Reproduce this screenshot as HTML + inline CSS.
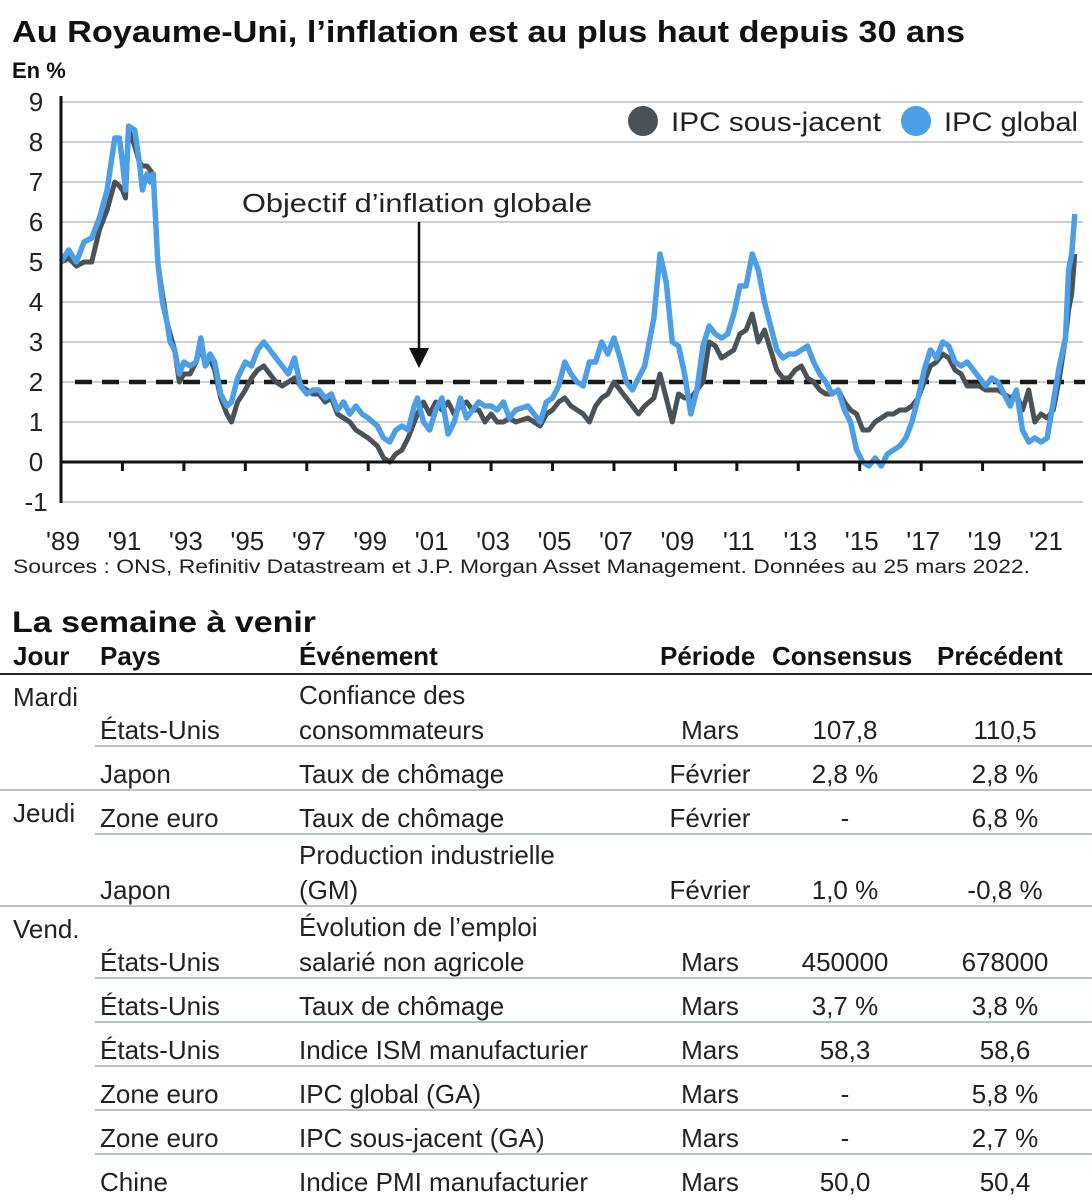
<!DOCTYPE html>
<html><head><meta charset="utf-8"><style>
body{margin:0;background:#fff;}
svg{display:block;font-family:"Liberation Sans",sans-serif;}
</style></head><body>
<svg id="root" width="1092" height="1200" viewBox="0 0 1092 1200">
<text x="12" y="42" font-size="31" font-weight="bold" fill="#111" textLength="953" lengthAdjust="spacingAndGlyphs">Au Royaume-Uni, l’inflation est au plus haut depuis 30 ans</text>
<text x="12" y="78" font-size="22" font-weight="bold" fill="#111">En %</text>
<g id="grid"></g>
<g id="ylabels"></g>
<g id="xlabels"></g>
<line x1="75" y1="382" x2="1085" y2="382" stroke="#1a1a1a" stroke-width="4.5" stroke-dasharray="17,10"/>
<g id="series"></g>
<line x1="61" y1="96" x2="61" y2="503" stroke="#111" stroke-width="3"/>
<g id="axis"></g>
<text x="242" y="212" font-size="26" fill="#222" textLength="350" lengthAdjust="spacingAndGlyphs">Objectif d’inflation globale</text>
<line x1="419" y1="222" x2="419" y2="352" stroke="#111" stroke-width="2.5"/>
<polygon points="409,348 429,348 419,368" fill="#111"/>
<g>
<circle cx="643" cy="121" r="15" fill="#4a5257"/>
<text x="671" y="131" font-size="27" fill="#222" textLength="210" lengthAdjust="spacingAndGlyphs">IPC sous-jacent</text>
<circle cx="916" cy="121" r="15" fill="#4c9fe6"/>
<text x="944" y="131" font-size="27" fill="#222" textLength="134" lengthAdjust="spacingAndGlyphs">IPC global</text>
</g>
<text x="13" y="573" font-size="19" fill="#222" textLength="1017" lengthAdjust="spacingAndGlyphs">Sources : ONS, Refinitiv Datastream et J.P. Morgan Asset Management.  Données au 25 mars 2022.</text>

<text x="12" y="632" font-size="30" font-weight="bold" fill="#111" textLength="304" lengthAdjust="spacingAndGlyphs">La semaine à venir</text>
<g id="table"></g>
</svg>
<script>
const years=[1989.0,1989.25,1989.5,1989.75,1990.0,1990.25,1990.5,1990.75,1990.9,1991.0,1991.1,1991.2,1991.4,1991.55,1991.65,1991.8,1991.9,1992.0,1992.15,1992.3,1992.45,1992.55,1992.7,1992.85,1993.0,1993.2,1993.4,1993.55,1993.7,1993.85,1994.0,1994.2,1994.4,1994.55,1994.75,1995.0,1995.2,1995.4,1995.6,1995.8,1996.0,1996.2,1996.4,1996.6,1996.8,1997.0,1997.2,1997.4,1997.6,1997.8,1998.0,1998.2,1998.4,1998.6,1998.8,1999.0,1999.3,1999.5,1999.7,1999.9,2000.1,2000.3,2000.5,2000.6,2000.8,2001.0,2001.2,2001.4,2001.6,2001.8,2002.0,2002.2,2002.4,2002.6,2002.8,2003.0,2003.2,2003.4,2003.6,2003.8,2004.2,2004.6,2004.8,2005.0,2005.2,2005.4,2005.6,2005.8,2006.0,2006.2,2006.4,2006.6,2006.8,2007.0,2007.2,2007.4,2007.6,2007.8,2008.0,2008.3,2008.5,2008.7,2008.9,2009.1,2009.3,2009.5,2009.7,2009.9,2010.1,2010.3,2010.5,2010.7,2010.9,2011.1,2011.3,2011.5,2011.7,2011.9,2012.1,2012.3,2012.5,2012.7,2012.9,2013.1,2013.3,2013.5,2013.7,2013.9,2014.1,2014.3,2014.5,2014.7,2014.9,2015.1,2015.3,2015.5,2015.7,2015.9,2016.1,2016.3,2016.5,2016.7,2016.9,2017.1,2017.3,2017.5,2017.7,2017.9,2018.1,2018.3,2018.5,2018.7,2018.9,2019.1,2019.3,2019.5,2019.7,2019.9,2020.1,2020.3,2020.5,2020.7,2020.9,2021.1,2021.3,2021.5,2021.7,2021.8,2021.9,2022.0];
const globalCpi=[5.0,5.3,5.0,5.5,5.6,6.1,6.8,8.1,8.1,7.5,6.8,8.4,8.3,7.5,6.8,7.2,7.0,7.2,5.0,4.0,3.5,3.0,2.8,2.2,2.5,2.4,2.5,3.1,2.4,2.7,2.5,1.7,1.4,1.5,2.1,2.5,2.4,2.8,3.0,2.8,2.6,2.4,2.2,2.6,1.9,1.7,1.8,1.8,1.6,1.7,1.3,1.5,1.2,1.4,1.2,1.1,0.9,0.6,0.5,0.8,0.9,0.8,1.4,1.6,1.0,0.8,1.3,1.6,0.7,1.0,1.6,1.1,1.3,1.5,1.4,1.4,1.3,1.5,1.1,1.3,1.4,1.0,1.5,1.6,1.9,2.5,2.2,2.0,1.9,2.5,2.5,3.0,2.7,3.1,2.6,2.0,1.8,2.1,2.4,3.6,5.2,4.5,3.0,2.9,2.2,1.2,1.8,2.9,3.4,3.2,3.1,3.2,3.7,4.4,4.4,5.2,4.8,4.0,3.4,2.8,2.6,2.7,2.7,2.8,2.9,2.5,2.2,2.0,1.7,1.8,1.3,1.0,0.3,0.0,-0.1,0.1,-0.1,0.2,0.3,0.4,0.6,1.0,1.6,2.3,2.8,2.6,3.0,2.9,2.5,2.4,2.5,2.3,2.1,1.9,2.1,2.0,1.7,1.4,1.8,0.8,0.5,0.6,0.5,0.6,1.5,2.4,3.1,4.8,5.2,6.2];
const coreCpi=[5.0,5.1,4.9,5.0,5.0,5.8,6.3,7.0,6.9,6.8,6.6,8.3,7.9,7.5,7.4,7.4,7.3,7.2,5.0,4.2,3.5,3.2,2.8,2.0,2.2,2.2,2.5,2.9,2.4,2.6,2.3,1.6,1.2,1.0,1.5,1.8,2.1,2.3,2.4,2.2,2.0,1.9,2.0,2.1,1.9,1.8,1.7,1.7,1.5,1.6,1.2,1.1,1.0,0.8,0.7,0.6,0.4,0.1,0.0,0.2,0.3,0.6,1.0,1.2,1.5,1.2,1.5,1.3,1.5,1.2,1.4,1.5,1.3,1.3,1.0,1.2,1.0,1.0,1.1,1.0,1.1,0.9,1.2,1.3,1.5,1.6,1.4,1.3,1.2,1.0,1.4,1.6,1.7,2.0,1.8,1.6,1.4,1.2,1.4,1.6,2.2,1.6,1.0,1.7,1.6,1.6,1.8,2.0,3.0,2.9,2.6,2.7,2.8,3.2,3.3,3.7,3.0,3.3,2.8,2.3,2.1,2.1,2.3,2.4,2.1,2.0,1.8,1.7,1.7,1.8,1.5,1.3,1.2,0.8,0.8,1.0,1.1,1.2,1.2,1.3,1.3,1.4,1.6,2.0,2.4,2.5,2.7,2.6,2.3,2.2,1.9,1.9,1.9,1.8,1.8,1.8,1.7,1.6,1.7,1.3,1.8,1.0,1.2,1.1,1.3,2.1,3.1,3.8,4.2,5.2];
const yTicks=[9,8,7,6,5,4,3,2,1,0,-1];
const xTickYears=[1989,1991,1993,1995,1997,1999,2001,2003,2005,2007,2009,2011,2013,2015,2017,2019,2021];
const xTickLabels=["'89","'91","'93","'95","'97","'99","'01","'03","'05","'07","'09","'11","'13","'15","'17","'19","'21"];
const tableHeaders=["Jour","Pays","Événement","Période","Consensus","Précédent"];
const tableRows=[
 {day:"Mardi",country:"États-Unis",event:["Confiance des","consommateurs"],period:"Mars",cons:"107,8",prev:"110,5"},
 {day:"",country:"Japon",event:["Taux de chômage"],period:"Février",cons:"2,8 %",prev:"2,8 %"},
 {day:"Jeudi",country:"Zone euro",event:["Taux de chômage"],period:"Février",cons:"-",prev:"6,8 %"},
 {day:"",country:"Japon",event:["Production industrielle","(GM)"],period:"Février",cons:"1,0 %",prev:"-0,8 %"},
 {day:"Vend.",country:"États-Unis",event:["Évolution de l’emploi","salarié non agricole"],period:"Mars",cons:"450000",prev:"678000"},
 {day:"",country:"États-Unis",event:["Taux de chômage"],period:"Mars",cons:"3,7 %",prev:"3,8 %"},
 {day:"",country:"États-Unis",event:["Indice ISM manufacturier"],period:"Mars",cons:"58,3",prev:"58,6"},
 {day:"",country:"Zone euro",event:["IPC global (GA)"],period:"Mars",cons:"-",prev:"5,8 %"},
 {day:"",country:"Zone euro",event:["IPC sous-jacent (GA)"],period:"Mars",cons:"-",prev:"2,7 %"},
 {day:"",country:"Chine",event:["Indice PMI manufacturier"],period:"Mars",cons:"50,0",prev:"50,4"}
];
const NS="http://www.w3.org/2000/svg";
const xs=y=>61+(y-1989)*30.72;
const ys=v=>462-v*40;
function mk(tag,attrs,parent,text){const e=document.createElementNS(NS,tag);for(const k in attrs)e.setAttribute(k,attrs[k]);if(text!==undefined)e.textContent=text;parent.appendChild(e);return e;}
const grid=document.getElementById('grid'),yl=document.getElementById('ylabels'),xl=document.getElementById('xlabels'),ax=document.getElementById('axis'),ser=document.getElementById('series'),tb=document.getElementById('table');
yTicks.forEach(v=>{
 if(v!==0){const l=mk('line',{x1:61,x2:1083,y1:ys(v),y2:ys(v),stroke:'#c9d0d2','stroke-width':2},grid);
 
 }
 const t=mk('text',{x:36,y:ys(v)+9,'font-size':26,fill:'#222','text-anchor':'middle'},yl,String(v));
 
 
});
const zl=mk('line',{x1:61,x2:1083,y1:ys(0),y2:ys(0),stroke:'#111','stroke-width':3},ax);


xTickYears.forEach((yr,i)=>{
 if(i>0){const tk=mk('line',{x1:xs(yr),x2:xs(yr),y1:ys(0),y2:ys(0)+9,stroke:'#111','stroke-width':3},ax);
 
 }
 const t=mk('text',{x:xs(yr)+2,y:550,'font-size':26,fill:'#222','text-anchor':'middle'},xl,xTickLabels[i]);
 
 
});
function path(vals){return vals.map((v,i)=>(i?'L':'M')+xs(years[i]).toFixed(1)+','+ys(v).toFixed(1)).join(' ');}
const pc=mk('path',{d:path(coreCpi),fill:'none',stroke:'#4a5257','stroke-width':5,'stroke-linejoin':'round'},ser);


const pg=mk('path',{d:path(globalCpi),fill:'none',stroke:'#4c9fe6','stroke-width':5.5,'stroke-linejoin':'round'},ser);


// table
const colX=[13,100,299,710,845,1005];
tableHeaders.forEach((h,i)=>{
 const t=mk('text',{x:colX[i]+(i===3?-50:i===4?-73:i===5?-68:0),y:665,'font-size':26,'font-weight':'bold',fill:'#111'},tb,h);
 
 
});
const hl=mk('line',{x1:0,x2:1092,y1:674,y2:674,stroke:'#222','stroke-width':2},tb);


let y=674;
tableRows.forEach((r,i)=>{
 const h=r.event.length===2?72:44;
 const base=y+h-7;
 if(r.day){const t=mk('text',{x:13,y:y+32,'font-size':26,fill:'#222'},tb,r.day);
 
 }
 const c=mk('text',{x:100,y:base,'font-size':26,fill:'#222'},tb,r.country);
 
 
 r.event.forEach((e,j)=>{const t=mk('text',{x:299,y:base-(r.event.length-1-j)*35,'font-size':26,fill:'#222'},tb,e);
 
 });
 [[r.period,710,'table-period'],[r.cons,845,'table-consensus'],[r.prev,1005,'table-previous']].forEach(a=>{
 const t=mk('text',{x:a[1],y:base,'font-size':26,fill:'#222','text-anchor':'middle'},tb,a[0]);
 
 });
 y+=h;
 const next=tableRows[i+1];
 if(next){const full=!!next.day;
 const l=mk('line',{x1:full?0:95,x2:1092,y1:y,y2:y,stroke:'#b8c2c4','stroke-width':2},tb);
 
 }
});
</script>
</body></html>
